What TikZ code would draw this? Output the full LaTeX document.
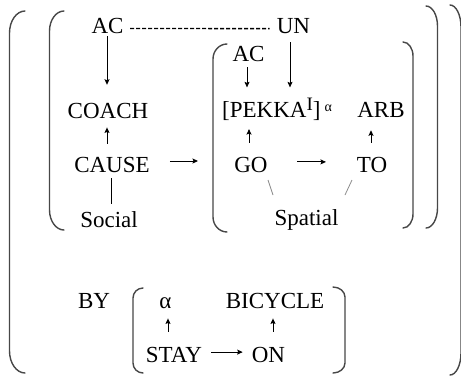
\documentclass[tikz,border=0pt]{standalone}
\usepackage{fontspec}
\setmainfont{Liberation Serif}
\usetikzlibrary{arrows.meta}
\newcommand\lbrk[5]{\draw[brk] (#2,#3) .. controls ({#1+0.45*(#2-#1)},#3) and (#1,{#3+0.45*#5}) .. (#1,#3+#5) -- (#1,#4-#5) .. controls (#1,{#4-0.45*#5}) and ({#1+0.45*(#2-#1)},#4) .. (#2,#4);}
\begin{document}
\begin{tikzpicture}[x=1pt,y=-1pt,
  lbl/.style={anchor=base,inner sep=0pt,font=\fontsize{23}{27}\selectfont},
  link/.style={line width=0.9pt,draw=black},
  arr/.style={link,-{Stealth[length=5.5pt,width=5pt,inset=1pt]}},
  brk/.style={line width=1.4pt,draw=black!72,line cap=round},
  dashlink/.style={line width=1.4pt,draw=black,dash pattern=on 4pt off 2pt},
  faint/.style={line width=0.8pt,draw=black!45}]
\useasboundingbox (0,0) rectangle (461,376);
% brackets
\lbrk{9.5}{25}{11}{373}{22}
\lbrk{49.5}{64}{11}{230}{20}
\lbrk{213}{227}{44}{232}{15}
\lbrk{413}{403}{42}{228}{14}
\lbrk{437.5}{426}{6}{228}{20}
\lbrk{461}{450}{5}{375}{22}
\lbrk{133}{143}{288}{373}{10}
\lbrk{345}{333}{287}{373}{10}
% nodes
\node[lbl] (acT) at (107.5,33) {AC};
\node[lbl] (un) at (293.5,33) {UN};
\node[lbl] (coach) at (108,118) {COACH};
\node[lbl] (cause) at (112,172) {CAUSE};
\node[lbl] (social) at (109,227) {Social};
\node[lbl] (acS) at (248.5,61) {AC};
\node[lbl,anchor=base west] (pekka) at (222,117) {[PEKKA\raisebox{7pt}{\fontsize{19}{19}\selectfont I}]\hspace{4pt}\raisebox{6pt}{\fontsize{14}{14}\selectfont α}};
\node[lbl] (arb) at (381,117) {ARB};
\node[lbl] (go) at (251,172) {GO};
\node[lbl] (to) at (372,172) {TO};
\node[lbl] (spatial) at (306.5,225) {Spatial};
\node[lbl] (by) at (94,308) {BY};
\node[lbl] (alpha) at (165.5,308) {α};
\node[lbl] (bicycle) at (275,308) {BICYCLE};
\node[lbl] (stay) at (174,362) {STAY};
\node[lbl] (on) at (268.5,362) {ON};
% connectors
\draw[arr,shorten <=3pt,shorten >=17.8pt] ([xshift=-0.5pt]acT.south) -- ([xshift=-0.5pt]acT.south |- coach.north);
\draw[arr,shorten <=12.8pt,shorten >=9pt] ([xshift=-0.5pt]acT.south |- cause.north) -- ([xshift=-0.5pt]acT.south |- coach.south);
\coordinate (spin) at (198,161);
\draw[arr,shorten <=20pt] (cause.east |- spin) -- (spin);
\draw[link,shorten <=6pt,shorten >=7pt] ([xshift=-1pt]cause.south) -- ([xshift=-1pt]cause.south |- social.north);
\draw[dashlink,shorten <=6.5pt,shorten >=7pt] ([yshift=-3pt]acT.east) -- ([yshift=-3pt]un.west);
\draw[arr,shorten <=9pt,shorten >=10pt] ([xshift=-3.5pt]un.south) -- ([xshift=-3.5pt]un.south |- pekka.north);
\draw[arr,shorten <=6pt,shorten >=10pt] ([xshift=-1.5pt]acS.south) -- ([xshift=-1.5pt]acS.south |- pekka.north);
\draw[arr,shorten <=13.6pt,shorten >=8.8pt] ([xshift=-2pt]go.north) -- ([xshift=-2pt]go.north |- pekka.south);
\draw[arr,shorten <=13.8pt,shorten >=13pt] ([xshift=-1pt]to.north) -- ([xshift=-1pt]to.north |- arb.south);
\draw[arr,shorten <=29.4pt,shorten >=30.7pt] ([yshift=2.6pt]go.east) -- ([yshift=2.6pt]to.west);
\coordinate (g1) at (268,180); \coordinate (g2) at (273,195);
\coordinate (t1) at (352,180); \coordinate (t2) at (345,195);
\draw[faint] (g1) -- (g2);
\draw[faint] (t1) -- (t2);
\draw[arr,shorten <=14.8pt,shorten >=10pt] ([xshift=2.5pt]alpha.south |- stay.north) -- ([xshift=2.5pt]alpha.south);
\draw[arr,shorten <=14.8pt,shorten >=10pt] ([xshift=-2pt]bicycle.south |- on.north) -- ([xshift=-2pt]bicycle.south);
\draw[arr,shorten <=9pt,shorten >=9pt] ([yshift=2.4pt]stay.east) -- ([yshift=2.4pt]on.west);
\end{tikzpicture}
\end{document}
